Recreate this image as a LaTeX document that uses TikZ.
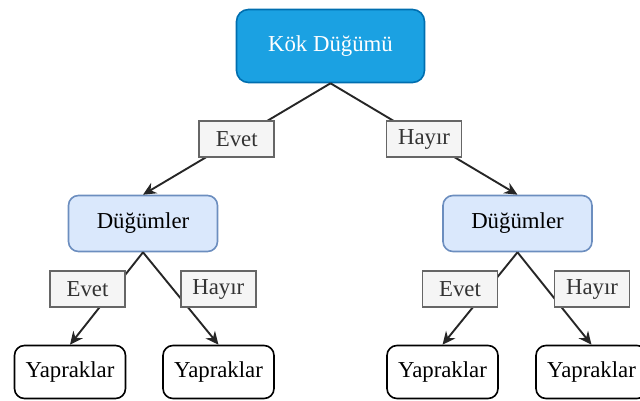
\documentclass[tikz,border=0pt]{standalone}
\usepackage{fontspec}
\setmainfont{Liberation Serif}
\usepackage{tikz}
\usetikzlibrary{arrows.meta}

\definecolor{kokfill}{HTML}{1BA1E2}
\definecolor{kokline}{HTML}{006EAF}
\definecolor{dugumfill}{HTML}{DAE8FC}
\definecolor{dugumline}{HTML}{6C8EBF}
\definecolor{etiketfill}{HTML}{F5F5F5}
\definecolor{etiketline}{HTML}{666666}
\definecolor{etikettext}{HTML}{333333}

\begin{document}
\begin{tikzpicture}[
			x=1pt, y=-1pt,
			line width=1.6pt,
			every node/.style={font=\fontsize{22.8}{27}\selectfont, inner sep=0pt},
			kok/.style={rectangle, rounded corners=12pt, draw=kokline, fill=kokfill, text=white, minimum width=188pt, minimum height=73pt},
			dugum/.style={rectangle, rounded corners=10pt, draw=dugumline, fill=dugumfill, minimum width=149pt, minimum height=56pt},
			yaprak/.style={rectangle, rounded corners=10pt, draw=black, fill=white, minimum width=111pt, minimum height=53pt},
			etiket/.style={rectangle, draw=etiketline, fill=etiketfill, text=etikettext, minimum width=75pt, minimum height=36pt},
			ok/.style={-{Stealth[length=13pt, width=12pt]}, line width=1.9pt, draw=black!85},
			]
			\useasboundingbox (0,0) rectangle (640,401);
			\clip (0,0) rectangle (640,401);
			% dugumler
			\node[kok] (kok) at (330.5,46) {Kök Düğümü};
			\node[dugum] (d1) at (143,223.5) {Düğümler};
			\node[dugum] (d2) at (517.5,223.5) {Düğümler};
			\node[yaprak] (y1) at (70,372) {Yapraklar};
			\node[yaprak] (y2) at (218.5,372) {Yapraklar};
			\node[yaprak] (y3) at (442.5,372) {Yapraklar};
			\node[yaprak] (y4) at (591.5,372) {Yapraklar};
			% kenarlar
			\draw[ok] (kok.south) -- node[etiket] {Evet} (d1.north);
			\draw[ok] (kok.south) -- node[etiket] {Hayır} (d2.north);
			\draw[ok] (d1.south) -- node[etiket, xshift=-19pt, yshift=9.5pt] {Evet} (y1.north);
			\draw[ok] (d1.south) -- node[etiket, xshift=37.5pt, yshift=9.5pt] {Hayır} (y2.north);
			\draw[ok] (d2.south) -- node[etiket, xshift=-20pt, yshift=9.5pt] {Evet} (y3.north);
			\draw[ok] (d2.south) -- node[etiket, xshift=37.5pt, yshift=9.5pt] {Hayır} (y4.north);
		\end{tikzpicture}
\end{document}
